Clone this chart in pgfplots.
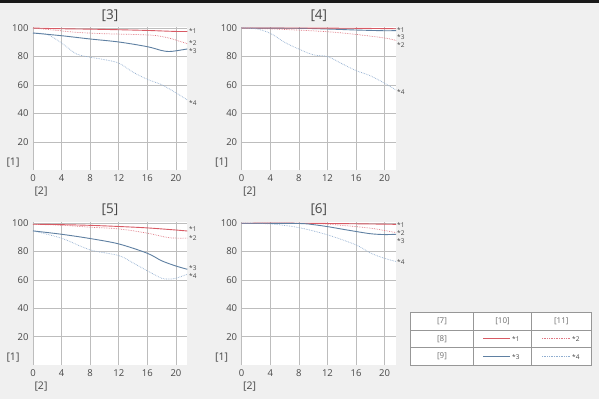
\documentclass[border=0pt]{standalone}
\usepackage{pgfplots}
\pgfplotsset{compat=1.18}
\usepackage{fontspec}
\setmainfont{Open Sans}
\definecolor{bg}{HTML}{F0F0F0}
\definecolor{rs}{HTML}{D85A64}
\definecolor{rd}{HTML}{E07884}
\definecolor{bs}{HTML}{5F80A2}
\definecolor{bd}{HTML}{90AED0}
\definecolor{txt}{HTML}{484848}
\definecolor{grd}{HTML}{BDBDBD}
\begin{document}
\begin{tikzpicture}[x=1pt,y=1pt]
\fill[bg] (0,0) rectangle (599,399);
\fill[black!90] (0,396) rectangle (599,399);
\pgfplotsset{panel/.style={scale only axis, width=154.4pt, height=143.9pt,
  xmin=0,xmax=21.6,ymin=0,ymax=101, anchor=south west,
  axis line style={draw=none}, major tick length=0pt,
  xtick={0,4,...,20}, ytick={20,40,...,100},
  grid=major, major grid style={grd, line width=0.6pt},
  axis background/.style={fill=white},
  tick label style={font=\fontsize{9.5}{10}\selectfont, text=txt},
  /pgf/number format/assume math mode=true,
  xticklabel style={yshift=-1pt}, yticklabel style={xshift=-1pt},
  clip=false},
  s1/.style={rs, line width=0.9pt, smooth},
  s2/.style={rd, line width=0.7pt, densely dotted, smooth},
  s3/.style={bs, line width=0.9pt, smooth},
  s4/.style={bd, line width=0.7pt, densely dotted, smooth}}
% Panel [3]
\begin{axis}[panel, at={(33pt,228.5pt)}]
\addplot[s2] coordinates {(0,100) (3,98.5) (6,97) (10,96) (14,95.5) (17,94.8) (19,93) (20,91.5) (21.6,89)};
\addplot[s1] coordinates {(0,100) (4,99.5) (8,99.2) (12,98.8) (16,98.3) (20,97.6) (21.6,97.6)};
\addplot[s4] coordinates {(0,96.5) (2,95.5) (4,89.5) (6,82) (8,79.5) (10,77.8) (12,75.4) (14,69) (16,64) (18,60.2) (20,54.5) (21.6,49.5)};
\addplot[s3] coordinates {(0,96.5) (4,94.6) (8,92.3) (12,90.2) (16,86.9) (18,84.2) (19,83.5) (20,84) (21.6,85.3)};
\end{axis}
% Panel [4]
\begin{axis}[panel, at={(241.7pt,228.5pt)}]
\addplot[s2] coordinates {(0,100) (6,99) (12,97.4) (16,95.5) (20,93) (21.6,91.3)};
\addplot[s3] coordinates {(0,100) (8,99.8) (12,99.3) (16,98.6) (20,98.1) (21.6,98.2)};
\addplot[s1] coordinates {(0,100) (8,100) (16,99.8) (21.6,99.5)};
\addplot[s4] coordinates {(0,100) (2,99.5) (4,96.3) (6,90) (8,85.2) (10,81.2) (12,80) (14,75) (16,70.1) (18,66.5) (20,61.2) (21.6,56.5)};
\end{axis}
% Panel [5]
\begin{axis}[panel, at={(33pt,34pt)}, height=143.2pt]
\addplot[s2] coordinates {(0,99.2) (4,98.6) (8,97.2) (12,96) (16,93) (19,89.8) (21.6,89.5)};
\addplot[s1] coordinates {(0,99.3) (4,99) (8,98.5) (12,97.7) (16,96.7) (20,95.2) (21.6,94.5)};
\addplot[s4] coordinates {(0,94.6) (4,89.4) (8,81.2) (12,77.2) (14,72) (16,66.4) (18,61.2) (19,60.6) (20,61.2) (21.6,64)};
\addplot[s3] coordinates {(0,94.6) (4,92.2) (8,89.2) (12,85.4) (16,78.8) (18,73.5) (20,69.8) (21.6,67.5)};
\end{axis}
% Panel [6]
\begin{axis}[panel, at={(241.7pt,34pt)}, height=143.2pt]
\addplot[s2] coordinates {(0,100) (10,99.8) (14,98.5) (18,96.5) (21.6,93.4)};
\addplot[s1] coordinates {(0,100) (8,100) (16,99.6) (21.6,99.2)};
\addplot[s4] coordinates {(0,100) (4,99.5) (8,96.9) (12,91.8) (16,84.7) (18,79) (20,75.2) (21.6,73)};
\addplot[s3] coordinates {(0,100) (8,99.8) (10,99) (12,97.6) (15,95) (18,92.6) (20,92) (21.6,92.2)};
\end{axis}
% titles and labels
\begin{scope}[font=\fontsize{13.5}{14}\selectfont, text=txt]
\node at (110,383) {[3]};
\node at (318.8,383) {[4]};
\node at (110,189) {[5]};
\node at (318.8,189) {[6]};
\end{scope}
\begin{scope}[font=\fontsize{10.5}{11}\selectfont, text=txt]
\node at (13,236) {[1]};
\node at (41,207) {[2]};
\node at (221.7,236) {[1]};
\node at (249.7,207) {[2]};
\node at (13,41) {[1]};
\node at (41,12) {[2]};
\node at (221.7,41) {[1]};
\node at (249.7,12) {[2]};
\end{scope}
\begin{scope}[font=\fontsize{6.5}{7}\selectfont, text=txt, anchor=west, inner sep=0pt]
\node at (189,368) {*1};
\node at (189,356) {*2};
\node at (189,348) {*3};
\node at (189,296) {*4};
\node at (397,368.5) {*1};
\node at (397,361.5) {*3};
\node at (397,354) {*2};
\node at (397,307) {*4};
\node at (189,170) {*1};
\node at (189,161) {*2};
\node at (189,131) {*3};
\node at (189,123) {*4};
\node at (397,173.5) {*1};
\node at (397,166) {*2};
\node at (397,158) {*3};
\node at (397,137) {*4};
\end{scope}
% legend table
\fill[white] (410.7,33.3) rectangle (591,86.7);
\draw[grd!80!black, line width=0.5pt] (410.7,33.3) rectangle (591,86.7);
\draw[grd!80!black, line width=0.5pt] (410.7,69) -- (591,69) (410.7,51.3) -- (591,51.3)
  (473.3,33.3) -- (473.3,86.7) (531.7,33.3) -- (531.7,86.7);
\begin{scope}[font=\fontsize{8}{9}\selectfont, text=txt!80]
\node at (442,78) {[7]};
\node at (502.5,78) {[10]};
\node at (561.3,78) {[11]};
\node at (442,60.2) {[8]};
\node at (442,42.3) {[9]};
\end{scope}
\draw[rs, line width=0.9pt] (483,60.2) -- (510,60.2);
\draw[rd, line width=0.7pt, densely dotted] (542,60.2) -- (570,60.2);
\draw[bs, line width=0.9pt] (483,42.3) -- (510,42.3);
\draw[bd, line width=0.7pt, densely dotted] (542,42.3) -- (570,42.3);
\begin{scope}[font=\fontsize{6.5}{7}\selectfont, text=txt, anchor=west, inner sep=0pt]
\node at (512,59.5) {*1};
\node at (572,59.5) {*2};
\node at (512,41.6) {*3};
\node at (572,41.6) {*4};
\end{scope}
\end{tikzpicture}
\end{document}
